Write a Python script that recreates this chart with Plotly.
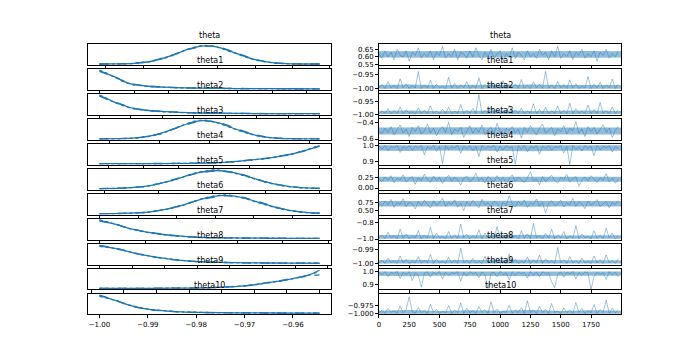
import plotly.graph_objects as go

# ---------------- data ----------------
param_names = ["theta", "theta1", "theta2", "theta3", "theta4", "theta5",
               "theta6", "theta7", "theta8", "theta9", "theta10"]

draw_step = 25          # one trace value per 25 draws
band_draws = [0, 250, 500, 750, 1000, 1250, 1500, 1750, 1999]

# KDE grids and chain densities (normalised heights)
theta_kde_x = [0.5565, 0.565, 0.575, 0.585, 0.595, 0.605, 0.613, 0.620, 0.630, 0.640, 0.650, 0.660, 0.6745]
theta_kde_a = [0.001, 0.006, 0.039, 0.165, 0.46, 0.84, 0.998, 0.926, 0.58, 0.236, 0.063, 0.011, 0.0004]
theta_kde_b = [0.002, 0.009, 0.046, 0.18, 0.48, 0.82, 0.97, 0.95, 0.61, 0.25, 0.07, 0.014, 0.001]
theta_kde_c = [0.0, 0.005, 0.034, 0.15, 0.44, 0.86, 1.02, 0.91, 0.56, 0.22, 0.058, 0.009, 0.0]

theta1_kde_x = [-1.0, -0.998, -0.9954, -0.993, -0.9906, -0.9858, -0.981, -0.975, -0.9713, -0.965, -0.955, -0.945, -0.9363]
theta1_kde_a = [1.0, 0.85, 0.65, 0.42, 0.26, 0.15, 0.1, 0.06, 0.045, 0.03, 0.02, 0.012, 0.008]
theta1_kde_b = [0.96, 0.83, 0.66, 0.44, 0.28, 0.16, 0.1, 0.065, 0.048, 0.032, 0.022, 0.014, 0.009]
theta1_kde_c = [1.03, 0.87, 0.63, 0.40, 0.25, 0.14, 0.09, 0.058, 0.042, 0.028, 0.018, 0.011, 0.007]

theta2_kde_x = [-1.0, -0.9975, -0.9949, -0.992, -0.9896, -0.985, -0.9791, -0.9685, -0.96, -0.95, -0.94, -0.93]
theta2_kde_a = [1.0, 0.82, 0.62, 0.45, 0.32, 0.2, 0.12, 0.05, 0.03, 0.02, 0.015, 0.01]
theta2_kde_b = [0.97, 0.80, 0.63, 0.47, 0.33, 0.21, 0.125, 0.055, 0.033, 0.022, 0.016, 0.011]
theta2_kde_c = [1.03, 0.84, 0.60, 0.43, 0.30, 0.19, 0.11, 0.047, 0.028, 0.018, 0.013, 0.009]

theta3_kde_x = [-0.61, -0.59, -0.57, -0.55, -0.53, -0.515, -0.505, -0.49, -0.47, -0.45, -0.43, -0.41, -0.39]
theta3_kde_a = [0.001, 0.01, 0.068, 0.27, 0.67, 0.94, 1.0, 0.86, 0.46, 0.15, 0.028, 0.003, 0.0]
theta3_kde_b = [0.002, 0.013, 0.075, 0.28, 0.65, 0.91, 0.98, 0.88, 0.49, 0.17, 0.033, 0.005, 0.001]
theta3_kde_c = [0.0, 0.008, 0.06, 0.25, 0.68, 0.97, 1.03, 0.84, 0.44, 0.14, 0.025, 0.002, 0.0]

theta4_kde_x = [0.875, 0.9, 0.92, 0.94, 0.95, 0.96, 0.97, 0.978, 0.985, 0.99, 0.995, 1.0]
theta4_kde_a = [0.005, 0.01, 0.02, 0.05, 0.1, 0.2, 0.3, 0.42, 0.55, 0.68, 0.82, 1.0]
theta4_kde_b = [0.006, 0.012, 0.022, 0.055, 0.11, 0.21, 0.31, 0.43, 0.56, 0.67, 0.8, 0.97]
theta4_kde_c = [0.004, 0.009, 0.018, 0.045, 0.095, 0.19, 0.29, 0.41, 0.54, 0.69, 0.84, 1.02]

theta5_kde_x = [-0.01, 0.03, 0.07, 0.10, 0.13, 0.17, 0.207, 0.24, 0.27, 0.30, 0.33, 0.36, 0.40]
theta5_kde_a = [0.0045, 0.028, 0.115, 0.27, 0.50, 0.85, 1.0, 0.88, 0.64, 0.37, 0.18, 0.068, 0.014]
theta5_kde_b = [0.006, 0.032, 0.12, 0.28, 0.52, 0.83, 0.97, 0.9, 0.66, 0.38, 0.19, 0.072, 0.016]
theta5_kde_c = [0.003, 0.025, 0.105, 0.26, 0.49, 0.87, 1.03, 0.86, 0.62, 0.35, 0.17, 0.062, 0.012]

theta6_kde_x = [0.40, 0.46, 0.52, 0.57, 0.62, 0.67, 0.725, 0.77, 0.82, 0.87, 0.91, 0.94, 0.97]
theta6_kde_a = [0.0015, 0.013, 0.074, 0.23, 0.50, 0.83, 1.0, 0.88, 0.57, 0.27, 0.12, 0.057, 0.025]
theta6_kde_b = [0.002, 0.016, 0.08, 0.24, 0.52, 0.81, 0.97, 0.9, 0.6, 0.29, 0.13, 0.06, 0.027]
theta6_kde_c = [0.001, 0.011, 0.068, 0.22, 0.48, 0.85, 1.03, 0.86, 0.55, 0.26, 0.11, 0.053, 0.022]

theta7_kde_x = [-1.0, -0.99, -0.98, -0.9645, -0.95, -0.928, -0.91, -0.892, -0.87, -0.84, -0.81, -0.785, -0.76]
theta7_kde_a = [1.0, 0.88, 0.75, 0.52, 0.37, 0.21, 0.13, 0.07, 0.045, 0.03, 0.02, 0.012, 0.008]
theta7_kde_b = [0.97, 0.86, 0.74, 0.53, 0.38, 0.22, 0.14, 0.075, 0.048, 0.032, 0.022, 0.014, 0.009]
theta7_kde_c = [1.03, 0.9, 0.76, 0.51, 0.36, 0.2, 0.12, 0.066, 0.042, 0.028, 0.018, 0.011, 0.007]

theta8_kde_x = [-1.0, -0.9992, -0.9985, -0.998, -0.997, -0.996, -0.995, -0.9939, -0.9925, -0.991, -0.9895, -0.988, -0.9865]
theta8_kde_a = [0.97, 0.86, 0.72, 0.6, 0.42, 0.28, 0.17, 0.1, 0.06, 0.04, 0.028, 0.02, 0.015]
theta8_kde_b = [1.0, 0.88, 0.73, 0.59, 0.41, 0.27, 0.165, 0.098, 0.058, 0.039, 0.027, 0.019, 0.014]
theta8_kde_c = [0.94, 0.84, 0.71, 0.61, 0.43, 0.29, 0.18, 0.105, 0.063, 0.042, 0.03, 0.021, 0.016]

theta9_kde_x = [0.865, 0.89, 0.91, 0.93, 0.945, 0.956, 0.965, 0.977, 0.985, 0.993, 1.0]
theta9_kde_a = [0.005, 0.008, 0.015, 0.035, 0.09, 0.16, 0.27, 0.43, 0.57, 0.73, 1.0]
theta9_kde_b = [0.006, 0.009, 0.016, 0.04, 0.1, 0.17, 0.28, 0.45, 0.58, 0.68, 0.75]
theta9_kde_c = [0.004, 0.007, 0.014, 0.033, 0.085, 0.155, 0.265, 0.42, 0.56, 0.72, 0.95]

theta10_kde_x = [-1.0, -0.9985, -0.9967, -0.995, -0.9933, -0.9898, -0.986, -0.983, -0.978, -0.972, -0.966, -0.96, -0.9545]
theta10_kde_a = [0.97, 0.86, 0.72, 0.55, 0.41, 0.22, 0.13, 0.08, 0.05, 0.035, 0.025, 0.02, 0.015]
theta10_kde_b = [1.0, 0.88, 0.73, 0.55, 0.40, 0.21, 0.125, 0.078, 0.048, 0.033, 0.024, 0.019, 0.014]
theta10_kde_c = [0.94, 0.84, 0.71, 0.56, 0.42, 0.23, 0.135, 0.083, 0.052, 0.037, 0.026, 0.021, 0.016]

# Trace values (one value per 25 draws)
theta_trace = [0.62, 0.59, 0.64, 0.60, 0.63, 0.58, 0.65, 0.61, 0.60, 0.64, 0.57, 0.63, 0.61, 0.66, 0.59, 0.62, 0.60, 0.64, 0.58, 0.63,
               0.61, 0.67, 0.59, 0.62, 0.60, 0.65, 0.58, 0.63, 0.62, 0.59, 0.64, 0.60, 0.66, 0.61, 0.58, 0.63, 0.60, 0.65, 0.59, 0.62,
               0.64, 0.57, 0.62, 0.60, 0.66, 0.59, 0.63, 0.61, 0.58, 0.64, 0.60, 0.62, 0.59, 0.65, 0.61, 0.63, 0.58, 0.64, 0.60, 0.67,
               0.59, 0.62, 0.60, 0.64, 0.58, 0.63, 0.61, 0.65, 0.59, 0.62, 0.60, 0.64, 0.57, 0.63, 0.61, 0.65, 0.59, 0.62, 0.60, 0.64]
theta1_trace = [-0.998, -0.985, -0.999, -0.975, -0.997, -0.988, -0.999, -0.965, -0.996, -0.983, -0.999, -0.990, -0.997, -0.940, -0.999, -0.986, -0.998, -0.970, -0.999, -0.984,
                -0.997, -0.992, -0.999, -0.960, -0.998, -0.981, -0.999, -0.987, -0.996, -0.975, -0.999, -0.989, -0.998, -0.962, -0.999, -0.985, -0.997, -0.979, -0.999, -0.991,
                -0.998, -0.972, -0.999, -0.986, -0.997, -0.983, -0.999, -0.968, -0.998, -0.988, -0.999, -0.976, -0.996, -0.984, -0.999, -0.940, -0.998, -0.987, -0.999, -0.974,
                -0.997, -0.985, -0.999, -0.969, -0.998, -0.982, -0.999, -0.990, -0.997, -0.958, -0.999, -0.984, -0.998, -0.977, -0.999, -0.987, -0.997, -0.966, -0.999, -0.983]
theta2_trace = [-0.999, -0.988, -0.997, -0.979, -0.999, -0.986, -0.998, -0.972, -0.999, -0.984, -0.997, -0.991, -0.999, -0.976, -0.998, -0.985, -0.999, -0.968, -0.997, -0.987,
                -0.999, -0.981, -0.998, -0.974, -0.999, -0.989, -0.997, -0.963, -0.999, -0.985, -0.998, -0.978, -0.999, -0.925, -0.997, -0.986, -0.999, -0.971, -0.998, -0.983,
                -0.999, -0.990, -0.997, -0.966, -0.999, -0.984, -0.998, -0.977, -0.999, -0.988, -0.997, -0.960, -0.999, -0.982, -0.998, -0.973, -0.999, -0.987, -0.997, -0.969,
                -0.999, -0.985, -0.998, -0.958, -0.999, -0.979, -0.997, -0.988, -0.999, -0.965, -0.998, -0.983, -0.999, -0.955, -0.997, -0.986, -0.999, -0.972, -0.998, -0.984]
theta3_trace = [-0.50, -0.54, -0.47, -0.52, -0.45, -0.55, -0.49, -0.43, -0.53, -0.48, -0.57, -0.46, -0.51, -0.44, -0.54, -0.50, -0.42, -0.53, -0.47, -0.56,
                -0.49, -0.45, -0.52, -0.40, -0.55, -0.48, -0.51, -0.46, -0.58, -0.50, -0.44, -0.53, -0.47, -0.52, -0.43, -0.55, -0.49, -0.46, -0.54, -0.41,
                -0.51, -0.57, -0.47, -0.50, -0.45, -0.53, -0.48, -0.59, -0.46, -0.52, -0.44, -0.50, -0.55, -0.47, -0.42, -0.53, -0.49, -0.46, -0.56, -0.48,
                -0.51, -0.44, -0.54, -0.47, -0.50, -0.39, -0.53, -0.48, -0.57, -0.45, -0.51, -0.46, -0.54, -0.49, -0.43, -0.52, -0.47, -0.58, -0.50, -0.45]
theta4_trace = [0.995, 0.975, 0.998, 0.965, 0.992, 0.985, 0.999, 0.955, 0.990, 0.978, 0.997, 0.968, 0.994, 0.982, 0.999, 0.940, 0.991, 0.976, 0.998, 0.962,
                0.993, 0.885, 0.997, 0.972, 0.990, 0.984, 0.999, 0.950, 0.992, 0.979, 0.996, 0.966, 0.994, 0.930, 0.998, 0.975, 0.991, 0.986, 0.999, 0.958,
                0.993, 0.970, 0.997, 0.981, 0.990, 0.882, 0.996, 0.974, 0.999, 0.960, 0.992, 0.983, 0.997, 0.945, 0.994, 0.977, 0.999, 0.968, 0.991, 0.985,
                0.996, 0.952, 0.993, 0.880, 0.998, 0.973, 0.990, 0.964, 0.997, 0.980, 0.994, 0.935, 0.999, 0.971, 0.992, 0.984, 0.996, 0.957, 0.993, 0.978]
theta5_trace = [0.21, 0.15, 0.26, 0.18, 0.29, 0.12, 0.23, 0.19, 0.31, 0.14, 0.22, 0.27, 0.09, 0.24, 0.17, 0.33, 0.20, 0.13, 0.28, 0.18,
                0.25, 0.11, 0.22, 0.30, 0.16, 0.26, 0.19, 0.07, 0.23, 0.28, 0.15, 0.21, 0.35, 0.17, 0.24, 0.12, 0.27, 0.20, 0.14, 0.29,
                0.18, 0.25, 0.10, 0.22, 0.31, 0.16, 0.26, 0.19, 0.13, 0.24, 0.38, 0.17, 0.21, 0.08, 0.27, 0.15, 0.23, 0.30, 0.18, 0.12,
                0.25, 0.20, 0.32, 0.14, 0.22, 0.27, 0.04, 0.19, 0.26, 0.16, 0.29, 0.21, 0.13, 0.24, 0.18, 0.34, 0.15, 0.23, 0.11, 0.20]
theta6_trace = [0.72, 0.64, 0.80, 0.68, 0.85, 0.60, 0.75, 0.69, 0.88, 0.62, 0.77, 0.71, 0.55, 0.79, 0.66, 0.83, 0.70, 0.58, 0.81, 0.67,
                0.74, 0.90, 0.63, 0.76, 0.69, 0.84, 0.61, 0.73, 0.50, 0.78, 0.66, 0.82, 0.70, 0.59, 0.86, 0.68, 0.75, 0.63, 0.80, 0.72,
                0.57, 0.77, 0.65, 0.98, 0.71, 0.62, 0.79, 0.68, 0.84, 0.60, 0.74, 0.69, 0.87, 0.64, 0.76, 0.42, 0.73, 0.81, 0.66, 0.70,
                0.83, 0.61, 0.75, 0.68, 0.89, 0.63, 0.78, 0.71, 0.56, 0.80, 0.67, 0.74, 0.85, 0.62, 0.72, 0.79, 0.59, 0.76, 0.69, 0.82]
theta7_trace = [-0.99, -0.95, -0.995, -0.92, -0.985, -0.96, -0.998, -0.88, -0.99, -0.94, -0.996, -0.97, -0.985, -0.90, -0.998, -0.95, -0.99, -0.86, -0.995, -0.93,
                -0.985, -0.97, -0.998, -0.91, -0.99, -0.95, -0.996, -0.82, -0.985, -0.94, -0.998, -0.96, -0.99, -0.89, -0.995, -0.93, -0.985, -0.97, -0.998, -0.85,
                -0.99, -0.95, -0.996, -0.92, -0.985, -0.96, -0.998, -0.90, -0.99, -0.94, -0.995, -0.81, -0.985, -0.96, -0.998, -0.93, -0.99, -0.88, -0.996, -0.95,
                -0.985, -0.91, -0.998, -0.96, -0.99, -0.84, -0.995, -0.94, -0.985, -0.97, -0.998, -0.90, -0.99, -0.95, -0.996, -0.87, -0.985, -0.93, -0.998, -0.96]
theta8_trace = [-0.9995, -0.9975, -0.9999, -0.9960, -0.9993, -0.9980, -0.9998, -0.9945, -0.9995, -0.9970, -0.9999, -0.9985, -0.9994, -0.9950, -0.9998, -0.9975, -0.9995, -0.9935, -0.9999, -0.9968,
                -0.9994, -0.9982, -0.9998, -0.9955, -0.9995, -0.9972, -0.9999, -0.9890, -0.9994, -0.9978, -0.9998, -0.9962, -0.9995, -0.9985, -0.9999, -0.9948, -0.9994, -0.9974, -0.9998, -0.9958,
                -0.9995, -0.9980, -0.9999, -0.9930, -0.9994, -0.9970, -0.9998, -0.9984, -0.9995, -0.9952, -0.9999, -0.9976, -0.9994, -0.9940, -0.9998, -0.9966, -0.9995, -0.9981, -0.9999, -0.9885,
                -0.9994, -0.9972, -0.9998, -0.9950, -0.9995, -0.9978, -0.9999, -0.9960, -0.9994, -0.9983, -0.9998, -0.9945, -0.9995, -0.9970, -0.9999, -0.9938, -0.9994, -0.9979, -0.9998, -0.9963]
theta9_trace = [0.995, 0.972, 0.998, 0.960, 0.991, 0.983, 0.999, 0.945, 0.993, 0.976, 0.997, 0.930, 0.990, 0.968, 0.880, 0.985, 0.996, 0.955, 0.992, 0.978,
                0.999, 0.940, 0.994, 0.970, 0.990, 0.984, 0.997, 0.925, 0.993, 0.962, 0.998, 0.979, 0.991, 0.950, 0.996, 0.972, 0.870, 0.986, 0.993, 0.958,
                0.999, 0.975, 0.990, 0.935, 0.997, 0.967, 0.994, 0.982, 0.991, 0.948, 0.998, 0.971, 0.993, 0.960, 0.996, 0.984, 0.990, 0.920, 0.875, 0.976,
                0.997, 0.955, 0.993, 0.980, 0.999, 0.942, 0.991, 0.969, 0.996, 0.985, 0.865, 0.962, 0.994, 0.977, 0.990, 0.938, 0.998, 0.973, 0.992, 0.958]
theta10_trace = [-0.998, -0.990, -0.999, -0.985, -0.996, -0.992, -0.999, -0.978, -0.997, -0.988, -0.950, -0.994, -0.999, -0.982, -0.997, -0.991, -0.999, -0.972, -0.996, -0.987,
                 -0.999, -0.993, -0.997, -0.976, -0.999, -0.989, -0.996, -0.968, -0.999, -0.984, -0.997, -0.991, -0.999, -0.979, -0.996, -0.988, -0.999, -0.965, -0.997, -0.986,
                 -0.999, -0.993, -0.996, -0.975, -0.999, -0.989, -0.997, -0.982, -0.999, -0.962, -0.996, -0.990, -0.999, -0.978, -0.997, -0.987, -0.999, -0.970, -0.996, -0.992,
                 -0.999, -0.983, -0.997, -0.989, -0.999, -0.967, -0.996, -0.985, -0.999, -0.991, -0.997, -0.973, -0.999, -0.988, -0.996, -0.960, -0.999, -0.984, -0.997, -0.990]

# Dense core of each trace (lower / upper edge of the solid-looking band)
theta_band_lo = [0.595, 0.593, 0.596, 0.594, 0.595, 0.593, 0.596, 0.594, 0.595]
theta_band_hi = [0.637, 0.639, 0.636, 0.638, 0.637, 0.639, 0.636, 0.638, 0.637]
theta1_band_lo = [-0.9998, -0.9998, -0.9998, -0.9998, -0.9998, -0.9998, -0.9998, -0.9998, -0.9998]
theta1_band_hi = [-0.987, -0.985, -0.988, -0.986, -0.987, -0.985, -0.987, -0.986, -0.987]
theta2_band_lo = [-0.9998, -0.9998, -0.9998, -0.9998, -0.9998, -0.9998, -0.9998, -0.9998, -0.9998]
theta2_band_hi = [-0.988, -0.986, -0.989, -0.987, -0.986, -0.988, -0.987, -0.986, -0.988]
theta3_band_lo = [-0.545, -0.548, -0.544, -0.547, -0.545, -0.548, -0.544, -0.546, -0.545]
theta3_band_hi = [-0.462, -0.459, -0.463, -0.460, -0.462, -0.459, -0.463, -0.461, -0.462]
theta4_band_lo = [0.966, 0.964, 0.967, 0.965, 0.966, 0.963, 0.966, 0.965, 0.966]
theta4_band_hi = [0.9995, 0.9995, 0.9995, 0.9995, 0.9995, 0.9995, 0.9995, 0.9995, 0.9995]
theta5_band_lo = [0.145, 0.142, 0.147, 0.144, 0.145, 0.142, 0.147, 0.144, 0.145]
theta5_band_hi = [0.265, 0.268, 0.263, 0.266, 0.265, 0.268, 0.263, 0.266, 0.265]
theta6_band_lo = [0.630, 0.625, 0.632, 0.628, 0.630, 0.625, 0.632, 0.628, 0.630]
theta6_band_hi = [0.805, 0.810, 0.802, 0.807, 0.805, 0.810, 0.802, 0.807, 0.805]
theta7_band_lo = [-0.998, -0.998, -0.998, -0.998, -0.998, -0.998, -0.998, -0.998, -0.998]
theta7_band_hi = [-0.955, -0.950, -0.957, -0.952, -0.955, -0.950, -0.957, -0.952, -0.955]
theta8_band_lo = [-0.99995, -0.99995, -0.99995, -0.99995, -0.99995, -0.99995, -0.99995, -0.99995, -0.99995]
theta8_band_hi = [-0.9975, -0.9972, -0.9976, -0.9973, -0.9975, -0.9972, -0.9976, -0.9973, -0.9975]
theta9_band_lo = [0.966, 0.963, 0.967, 0.964, 0.966, 0.963, 0.967, 0.964, 0.966]
theta9_band_hi = [0.9995, 0.9995, 0.9995, 0.9995, 0.9995, 0.9995, 0.9995, 0.9995, 0.9995]
theta10_band_lo = [-0.9997, -0.9997, -0.9997, -0.9997, -0.9997, -0.9997, -0.9997, -0.9997, -0.9997]
theta10_band_hi = [-0.991, -0.989, -0.992, -0.990, -0.991, -0.989, -0.992, -0.990, -0.991]

# Trace-panel y tick values / labels
trace_tickvals = [[0.55, 0.60, 0.65], [-1.00, -0.95], [-1.00, -0.95], [-0.6, -0.4], [0.9, 1.0], [0.0, 0.25],
                  [0.5, 0.75], [-1.0, -0.8], [-1.00, -0.99], [0.9, 1.0], [-1.000, -0.975]]
trace_ticktext = [["0.55", "0.60", "0.65"], ["\u22121.00", "\u22120.95"], ["\u22121.00", "\u22120.95"],
                  ["\u22120.6", "\u22120.4"], ["0.9", "1.0"], ["0.00", "0.25"], ["0.50", "0.75"],
                  ["\u22121.0", "\u22120.8"], ["\u22121.00", "\u22120.99"], ["0.9", "1.0"],
                  ["\u22121.000", "\u22120.975"]]
trace_yrange = [[0.545, 0.684], [-1.004, -0.932], [-1.003, -0.923], [-0.61, -0.36], [0.879, 1.007], [-0.04, 0.45],
                [0.37, 1.03], [-1.007, -0.757], [-1.0006, -0.9859], [0.862, 1.02], [-1.002, -0.941]]
kde_dtick = [0.02, 0.01, 0.01, 0.05, 0.02, 0.1, 0.1, 0.05, 0.002, 0.02, 0.01]

kde_bottom_ticks = [-1.00, -0.99, -0.98, -0.97, -0.96]
kde_bottom_text = ["\u22121.00", "\u22120.99", "\u22120.98", "\u22120.97", "\u22120.96"]
draw_ticks = [0, 250, 500, 750, 1000, 1250, 1500, 1750]

# ---------------- assembly ----------------
kde_x = [theta_kde_x, theta1_kde_x, theta2_kde_x, theta3_kde_x, theta4_kde_x, theta5_kde_x,
         theta6_kde_x, theta7_kde_x, theta8_kde_x, theta9_kde_x, theta10_kde_x]
kde_chains = [
    [theta_kde_a, theta_kde_b, theta_kde_c], [theta1_kde_a, theta1_kde_b, theta1_kde_c],
    [theta2_kde_a, theta2_kde_b, theta2_kde_c], [theta3_kde_a, theta3_kde_b, theta3_kde_c],
    [theta4_kde_a, theta4_kde_b, theta4_kde_c], [theta5_kde_a, theta5_kde_b, theta5_kde_c],
    [theta6_kde_a, theta6_kde_b, theta6_kde_c], [theta7_kde_a, theta7_kde_b, theta7_kde_c],
    [theta8_kde_a, theta8_kde_b, theta8_kde_c], [theta9_kde_a, theta9_kde_b, theta9_kde_c],
    [theta10_kde_a, theta10_kde_b, theta10_kde_c]]
traces_vals = [theta_trace, theta1_trace, theta2_trace, theta3_trace, theta4_trace, theta5_trace,
               theta6_trace, theta7_trace, theta8_trace, theta9_trace, theta10_trace]
bands_lo = [theta_band_lo, theta1_band_lo, theta2_band_lo, theta3_band_lo, theta4_band_lo, theta5_band_lo,
            theta6_band_lo, theta7_band_lo, theta8_band_lo, theta9_band_lo, theta10_band_lo]
bands_hi = [theta_band_hi, theta1_band_hi, theta2_band_hi, theta3_band_hi, theta4_band_hi, theta5_band_hi,
            theta6_band_hi, theta7_band_hi, theta8_band_hi, theta9_band_hi, theta10_band_hi]

# The page body has an 8px margin: size the figure to fit the 690x357 window.
WIN_W, WIN_H, OFF = 690, 357, 8
FW, FH = WIN_W - OFF, WIN_H - OFF


def px_x(p):
    return (p - OFF) / FW


def px_y(p):
    return 1 - (p - OFF) / FH


BLUE = "#1f77b4"
FONT = "DejaVu Sans"
n = len(param_names)
row_top0, row_h, row_pitch = 42.84, 21.15, 25.375   # window pixels
left_dom = [px_x(86.7), px_x(329.5)]
right_dom = [px_x(378.0), px_x(621.0)]
dashes = ["solid", "dash", "dot"]

fig = go.Figure()
layout = dict(width=FW, height=FH, margin=dict(l=0, r=0, t=0, b=0), autosize=False,
              paper_bgcolor="white", plot_bgcolor="white", showlegend=False,
              font=dict(family=FONT, size=7, color="black"))
annotations = []

axis_common = dict(showgrid=False, zeroline=False, showline=True, mirror=True,
                   linecolor="black", linewidth=0.8, ticks="outside", ticklen=3,
                   tickwidth=0.8, tickcolor="black", tickfont=dict(family=FONT, size=7, color="black"))

for i, name in enumerate(param_names):
    t_px = row_top0 + i * row_pitch
    row_top = px_y(t_px)
    row_bot = px_y(t_px + row_h)
    la, ra = 2 * i + 1, 2 * i + 2
    lx, ly = f"x{la}", f"y{la}"
    rx, ry = f"x{ra}", f"y{ra}"
    last = i == n - 1

    # KDE (left)
    xs = kde_x[i]
    span = xs[-1] - xs[0]
    for c, ys in enumerate(kde_chains[i]):
        fig.add_trace(go.Scatter(x=xs[:len(ys)], y=ys, mode="lines", xaxis=lx, yaxis=ly,
                                 line=dict(color=BLUE, width=1.3, dash=dashes[c], shape="spline",
                                           smoothing=0.8), hoverinfo="skip"))
    xa = dict(axis_common, domain=left_dom, anchor=ly,
              range=[xs[0] - 0.05 * span, xs[-1] + 0.05 * span])
    if last:
        xa.update(tickmode="array", tickvals=kde_bottom_ticks, ticktext=kde_bottom_text)
    else:
        xa.update(tick0=0, dtick=kde_dtick[i], showticklabels=False)
    layout["xaxis" if la == 1 else f"xaxis{la}"] = xa
    layout[f"yaxis{la}" if la > 1 else "yaxis"] = dict(
        axis_common, domain=[row_bot, row_top], anchor=lx, range=[-0.055, 1.085],
        ticks="", showticklabels=False)

    # Trace (right): dense core band + draws
    fig.add_trace(go.Scatter(x=band_draws, y=bands_lo[i], mode="lines", xaxis=rx, yaxis=ry,
                             line=dict(width=0, color="rgba(0,0,0,0)"), hoverinfo="skip"))
    fig.add_trace(go.Scatter(x=band_draws, y=bands_hi[i], mode="lines", xaxis=rx, yaxis=ry,
                             fill="tonexty", fillcolor="rgba(31,119,180,0.5)",
                             line=dict(width=0, color="rgba(0,0,0,0)"), hoverinfo="skip"))
    vals = traces_vals[i]
    draws = [k * draw_step for k in range(len(vals))]
    fig.add_trace(go.Scatter(x=draws, y=vals, mode="lines", xaxis=rx, yaxis=ry,
                             line=dict(color="rgba(31,119,180,0.62)", width=0.7), hoverinfo="skip"))
    xb = dict(axis_common, domain=right_dom, anchor=ry, range=[0, 1999],
              tickmode="array", tickvals=draw_ticks)
    if not last:
        xb.update(showticklabels=False)
    layout[f"xaxis{ra}"] = xb
    layout[f"yaxis{ra}"] = dict(axis_common, domain=[row_bot, row_top], anchor=rx,
                                range=trace_yrange[i], tickmode="array",
                                tickvals=trace_tickvals[i], ticktext=trace_ticktext[i])

    # titles
    for dom in (left_dom, right_dom):
        annotations.append(dict(text=name, xref="paper", yref="paper",
                                x=(dom[0] + dom[1]) / 2, y=row_top, xanchor="center",
                                yanchor="middle", yshift=8.5, showarrow=False,
                                font=dict(family=FONT, size=8, color="black")))

layout["annotations"] = annotations
fig.update_layout(**layout)
fig.write_html("out.html")
